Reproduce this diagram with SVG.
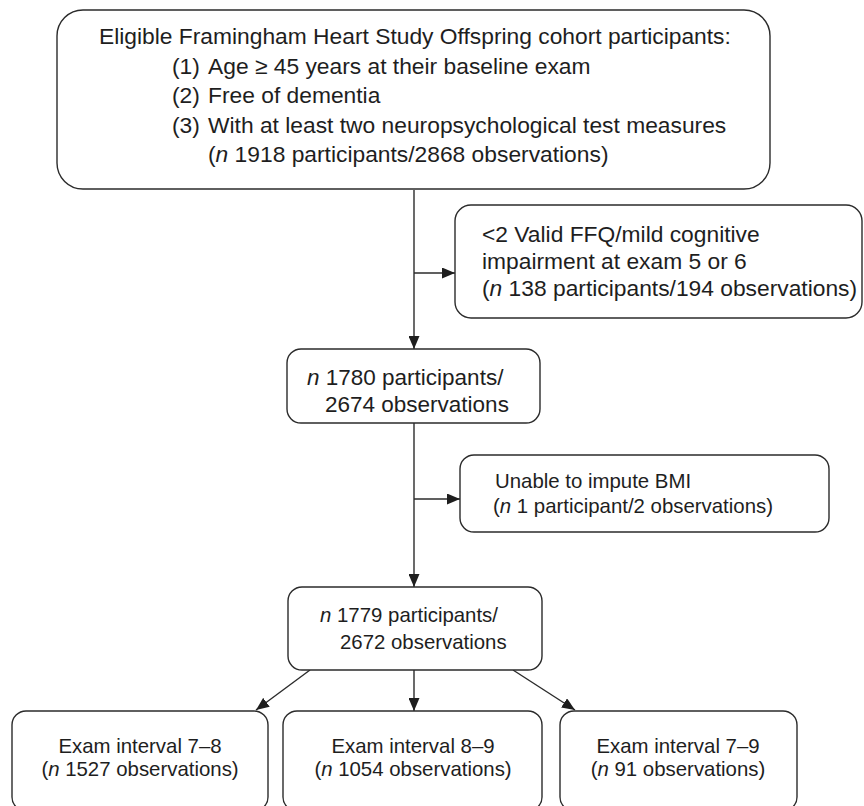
<svg xmlns="http://www.w3.org/2000/svg" width="864" height="806" viewBox="0 0 864 806">
<style>
  .box { fill: #ffffff; stroke: #2b2b2b; stroke-width: 1.4; }
  .t { font-family: "Liberation Sans", Arial, sans-serif; fill: #1e1e1e; }
  .t1 { font-size: 22.8px; }
  .t2 { font-size: 22.5px; }
  .t3 { font-size: 20.4px; }
  .i { font-style: italic; }
  .c { text-anchor: middle; }
  .conn { fill: none; stroke: #2b2b2b; stroke-width: 1.4; }
</style>
<defs>
  <marker id="arr" viewBox="0 0 13 11" refX="13" refY="5.5" markerWidth="13" markerHeight="11" markerUnits="userSpaceOnUse" orient="auto">
    <path d="M0,0 L13,5.5 L0,11 z" fill="#1e1e1e"/>
  </marker>
</defs>
<rect width="864" height="806" fill="#ffffff"/>

<g id="connectors">
  <path class="conn" d="M414,190 V349" marker-end="url(#arr)"/>
  <path class="conn" d="M414,273 H455" marker-end="url(#arr)"/>
  <path class="conn" d="M414,423 V587" marker-end="url(#arr)"/>
  <path class="conn" d="M414,499 H460" marker-end="url(#arr)"/>
  <path class="conn" d="M310,670 L256,710" marker-end="url(#arr)"/>
  <path class="conn" d="M414,670 V711" marker-end="url(#arr)"/>
  <path class="conn" d="M513,670 L575,710" marker-end="url(#arr)"/>
</g>

<g id="eligible">
  <rect class="box" x="57" y="10" width="713" height="179" rx="26" ry="26"/>
  <text class="t t1" x="99" y="44">Eligible Framingham Heart Study Offspring cohort participants:</text>
  <text class="t t1" y="73.5"><tspan x="172">(1)</tspan><tspan x="208">Age ≥ 45 years at their baseline exam</tspan></text>
  <text class="t t1" y="103"><tspan x="172">(2)</tspan><tspan x="208">Free of dementia</tspan></text>
  <text class="t t1" y="132.5"><tspan x="172">(3)</tspan><tspan x="208">With at least two neuropsychological test measures</tspan></text>
  <text class="t t1" x="208" y="162">(<tspan class="i">n</tspan> 1918 participants/2868 observations)</text>
</g>

<g id="excluded-ffq">
  <rect class="box" x="455" y="205" width="407" height="113" rx="16" ry="16"/>
  <text class="t t1" x="482" y="242">&lt;2 Valid FFQ/mild cognitive</text>
  <text class="t t1" x="482" y="269">impairment at exam 5 or 6</text>
  <text class="t t1" x="482" y="296">(<tspan class="i">n</tspan> 138 participants/194 observations)</text>
</g>

<g id="n1780">
  <rect class="box" x="287" y="349" width="253" height="74" rx="14" ry="14"/>
  <text class="t t2" x="307" y="385"><tspan class="i">n</tspan> 1780 participants/</text>
  <text class="t t2" x="325" y="412">2674 observations</text>
</g>

<g id="excluded-bmi">
  <rect class="box" x="460" y="455" width="369" height="77" rx="14" ry="14"/>
  <text class="t t3" x="495" y="488">Unable to impute BMI</text>
  <text class="t t3" x="493" y="513">(<tspan class="i">n</tspan> 1 participant/2 observations)</text>
</g>

<g id="n1779">
  <rect class="box" x="288" y="587" width="254" height="83" rx="14" ry="14"/>
  <text class="t t3" x="320" y="622"><tspan class="i">n</tspan> 1779 participants/</text>
  <text class="t t3" x="340" y="649">2672 observations</text>
</g>

<g id="interval-7-8">
  <rect class="box" x="12" y="711" width="256" height="100" rx="14" ry="14"/>
  <text class="t t3 c" x="140" y="753">Exam interval 7–8</text>
  <text class="t t3 c" x="140" y="776">(<tspan class="i">n</tspan> 1527 observations)</text>
</g>

<g id="interval-8-9">
  <rect class="box" x="283" y="711" width="259" height="100" rx="14" ry="14"/>
  <text class="t t3 c" x="413" y="753">Exam interval 8–9</text>
  <text class="t t3 c" x="413" y="776">(<tspan class="i">n</tspan> 1054 observations)</text>
</g>

<g id="interval-7-9">
  <rect class="box" x="560" y="711" width="237" height="100" rx="14" ry="14"/>
  <text class="t t3 c" x="678" y="753">Exam interval 7–9</text>
  <text class="t t3 c" x="678" y="776">(<tspan class="i">n</tspan> 91 observations)</text>
</g>
</svg>
